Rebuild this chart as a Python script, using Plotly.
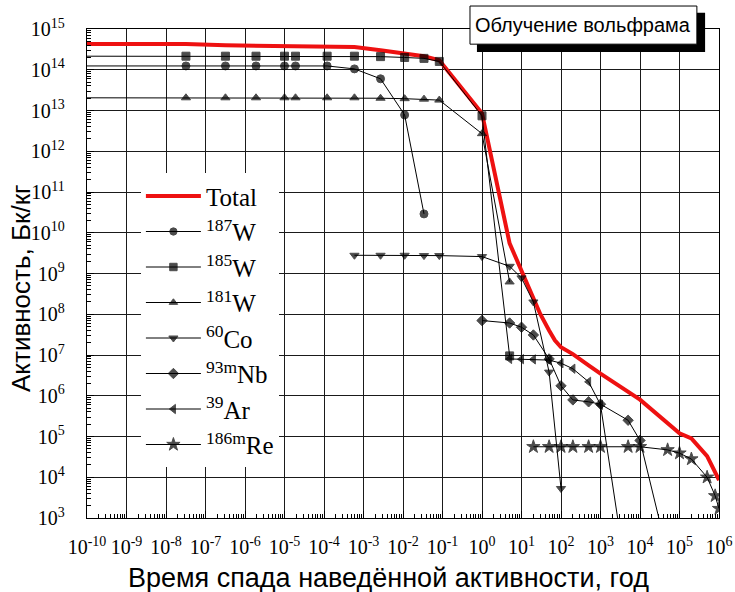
import plotly.graph_objects as go

# ---- data (time in years, activity in Bq/kg) ----
total_t = [1e-10, 3.2e-8, 3.2e-7, 1.9e-6, 1.0e-5, 1.2e-4, 5.9e-4, 2.7e-3, 1.1e-2, 3.4e-2, 8.3e-2,
           1, 5, 10, 20, 30, 50, 70, 100, 200, 500, 1000, 1e4, 5e4, 1e5, 2e5, 5e5, 1e6]
total_y = [4.3e14, 4.3e14, 4.0e14, 3.9e14, 3.85e14, 3.75e14, 3.6e14, 3.0e14, 2.5e14, 2.15e14, 1.7e14,
           8.5e12, 5.5e9, 1.15e9, 2.7e8, 1.0e8, 4.0e7, 2.3e7, 1.55e7, 1.05e7, 5.6e6, 3.5e6, 8.0e5, 2.1e5,
           1.2e5, 9.0e4, 3.3e4, 8.5e3]

w187_t = [1e-10, 3.2e-8, 3.2e-7, 1.9e-6, 1.0e-5, 1.9e-5, 1.2e-4, 5.9e-4, 2.7e-3, 1.1e-2, 3.4e-2]
w187_y = [1.24e14, 1.24e14, 1.24e14, 1.24e14, 1.24e14, 1.24e14, 1.24e14, 1.05e14, 6.0e13, 7.8e12, 2.9e10]

w185_t = [1e-10, 3.2e-8, 3.2e-7, 1.9e-6, 1.0e-5, 1.9e-5, 1.2e-4, 5.9e-4, 2.7e-3, 1.1e-2, 3.4e-2, 8.3e-2, 1, 5]
w185_y = [2.15e14, 2.15e14, 2.15e14, 2.15e14, 2.15e14, 2.15e14, 2.15e14, 2.15e14, 2.1e14, 2.0e14, 1.9e14,
          1.6e14, 7.4e12, 9.5e6]

w181_t = [1e-10, 3.2e-8, 3.2e-7, 1.9e-6, 1.0e-5, 1.9e-5, 1.2e-4, 5.9e-4, 2.7e-3, 1.1e-2, 3.4e-2, 8.3e-2, 1, 5]
w181_y = [2.05e13, 2.05e13, 2.05e13, 2.05e13, 2.05e13, 2.05e13, 2.05e13, 2.05e13, 2.0e13, 1.95e13, 1.9e13,
          1.8e13, 2.7e12, 6.2e8]

co60_t = [5.9e-4, 2.7e-3, 1.1e-2, 3.4e-2, 8.3e-2, 1, 5, 10, 20, 50, 100]
co60_y = [2.8e9, 2.8e9, 2.8e9, 2.75e9, 2.75e9, 2.6e9, 1.5e9, 7.8e8, 2.0e8, 3.8e6, 5.3e3]

nb93m_t = [1, 5, 10, 20, 50, 100, 200, 500, 1000, 5000, 1e4, 5e4]
nb93m_y = [7.0e7, 6.1e7, 4.8e7, 3.1e7, 8.0e6, 1.75e6, 7.9e5, 7.1e5, 6.2e5, 2.5e5, 8.0e4, 1.3e2]

ar39_t = [5, 10, 20, 50, 100, 200, 500, 1000, 5000]
ar39_y = [8.0e6, 7.9e6, 7.8e6, 7.5e6, 6.3e6, 4.6e6, 2.2e6, 6.0e5, 2.0e1]

re186m_t = [20, 50, 100, 200, 500, 1000, 5000, 1e4, 5e4, 1e5, 2e5, 5e5, 8e5, 1e6]
re186m_y = [5.6e4, 5.6e4, 5.6e4, 5.6e4, 5.6e4, 5.6e4, 5.6e4, 5.6e4, 4.7e4, 3.9e4, 2.8e4, 1.0e4, 3.5e3, 1.7e3]

x_exps = list(range(-10, 7))
y_exps = list(range(3, 16))
x_ticktext = ["10<sup>%d</sup>" % e for e in x_exps]
y_ticktext = ["10<sup>%d</sup>" % e for e in y_exps]

series = [
    ("<sup>187</sup>W", w187_t, w187_y, "circle", True),
    ("<sup>185</sup>W", w185_t, w185_y, "square", True),
    ("<sup>181</sup>W", w181_t, w181_y, "triangle-up", True),
    ("<sup>60</sup>Co", co60_t, co60_y, "triangle-down", False),
    ("<sup>93m</sup>Nb", nb93m_t, nb93m_y, "diamond", False),
    ("<sup>39</sup>Ar", ar39_t, ar39_y, "triangle-left", False),
    ("<sup>186m</sup>Re", re186m_t, re186m_y, "star", False),
]

fig = go.Figure()
fig.add_trace(go.Scatter(x=total_t, y=total_y, mode="lines", name="Total",
                         line=dict(color="#ee1111", width=4)))
for name, t, y, sym, hide_first in series:
    sz = 10 if sym == "star" else 8
    sizes = [sz] * len(t)
    if hide_first:
        sizes[0] = 0
    fig.add_trace(go.Scatter(x=t, y=y, mode="lines+markers", name=name,
                             line=dict(color="black", width=1),
                             marker=dict(symbol=sym, size=sizes, color="black",
                                         line=dict(width=1, color="black"))))

axis_common = dict(
    type="log", showline=True, linecolor="black", linewidth=1.3, mirror=True,
    showgrid=True, gridcolor="#1a1a1a", gridwidth=1.2,
    ticks="inside", ticklen=7, tickcolor="black", tickwidth=1.2,
    tickfont=dict(family="Liberation Serif", size=20, color="black"),
    tickmode="array", zeroline=False, automargin=False,
    minor=dict(ticks="inside", ticklen=4, tickcolor="black", tickwidth=1, showgrid=False, dtick="D1"),
)

fig.update_xaxes(range=[-10, 6], tickvals=[10.0 ** e for e in x_exps], ticktext=x_ticktext,
                 ticklabelstandoff=11, **axis_common)
fig.update_yaxes(range=[3, 15], tickvals=[10.0 ** e for e in y_exps], ticktext=y_ticktext,
                 ticklabelstandoff=17, **axis_common)

# axis titles
fig.add_annotation(text="Время спада наведённой активности, год", xref="paper", yref="paper",
                   x=(388 - 87) / 632, y=(518 - 578) / 489, showarrow=False,
                   font=dict(family="Liberation Sans", size=27, color="black"),
                   xanchor="center", yanchor="middle")
fig.add_annotation(text="Активность, Бк/кг", xref="paper", yref="paper",
                   x=(21 - 87) / 632, y=(518 - 288) / 489, showarrow=False, textangle=-90,
                   font=dict(family="Liberation Sans", size=26, color="black"),
                   xanchor="center", yanchor="middle")

# title box with shadow
fig.add_shape(type="rect", xref="paper", yref="paper", x0=0.617, x1=0.978, y0=0.953, y1=1.033,
              fillcolor="black", line=dict(width=0), layer="above")
fig.add_shape(type="rect", xref="paper", yref="paper", x0=0.606, x1=0.965, y0=0.969, y1=1.047,
              fillcolor="white", line=dict(color="black", width=1), layer="above")
fig.add_annotation(text="Облучение вольфрама", xref="paper", yref="paper", x=0.7855, y=1.008,
                   showarrow=False, font=dict(family="Liberation Sans", size=20, color="black"),
                   xanchor="center", yanchor="middle")

fig.update_layout(
    width=735, height=592,
    margin=dict(l=87, r=16, t=29, b=74),
    paper_bgcolor="white", plot_bgcolor="white",
    showlegend=True, hovermode=False,
    legend=dict(x=0.0853, y=0.705, xanchor="left", yanchor="top", bgcolor="white",
                font=dict(family="Liberation Serif", size=25, color="black"),
                itemwidth=55, tracegroupgap=0, borderwidth=0),
)

fig.write_html("out.html", config={"displayModeBar": False},
               post_script="document.body.style.margin='0';document.body.style.overflow='hidden';")
